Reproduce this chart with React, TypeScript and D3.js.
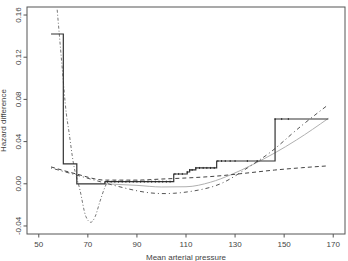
import React, { useEffect, useRef } from 'react';
import * as d3 from 'd3';

// tick labels
const xTicks = [50, 70, 90, 110, 130, 150, 170];
const yTicks = [-0.04, 0, 0.04, 0.08, 0.12, 0.16];
const yTickLabels = ['-0.04', '0.00', '0.04', '0.08', '0.12', '0.16'];

// step estimate (each level holds until the next x)
const stepX = [55, 60, 65.5, 77, 105, 110.5, 111.5, 114, 122.5, 146.3, 168];
const stepY = [0.142, 0.0188, 0.0, 0.002, 0.0093, 0.0112, 0.0131, 0.015, 0.0216, 0.0614, 0.0614];

// observation marks on the step line
const markX = [
  78, 79.5, 81, 82.5, 84, 85.5, 87, 88.5, 90, 91.5, 93, 94.5, 96, 97.5, 99, 100.5, 102, 103.5,
  105.5, 107, 108.5, 110.5, 111.5, 112.5, 114, 115.5, 117, 118.5, 120, 121.5, 123, 124.5, 126,
  128, 130, 135, 139, 146.3, 149, 151.7,
];

// dashed curve
const dashX = [55, 65, 77, 90, 100, 110, 122, 134, 146, 157, 168];
const dashY = [0.016, 0.0095, 0.0035, 0.0035, 0.0045, 0.0055, 0.0072, 0.01, 0.013, 0.0152, 0.017];

// dot-dash curve (wide)
const dotdashX = [55, 65, 75, 85, 95, 105, 115, 125, 135, 145, 155, 168];
const dotdashY = [0.015, 0.0085, 0.002, -0.004, -0.0085, -0.009, -0.006, 0.001, 0.015, 0.031, 0.051, 0.075];

// light grey smooth curve
const smoothX = [77, 90, 100, 110, 120, 128, 137, 146, 155, 168];
const smoothY = [0.0, -0.0015, -0.003, -0.0028, 0.0015, 0.0083, 0.018, 0.029, 0.0415, 0.062];

// flexible curve with the dip
const dipX = [57.5, 58.5, 59.5, 61.2, 62.2, 64.1, 66.8, 69.2, 71.2, 73, 74.9, 77, 78];
const dipY = [0.165, 0.138, 0.111, 0.067, 0.051, 0.0197, -0.006, -0.031, -0.0365, -0.031, -0.017, -0.003, 0.002];

const W = 348;
const H = 261;

const App = () => {
  const svgRef = useRef(null);

  useEffect(() => {
    const svg = d3.select(svgRef.current);
    svg.selectAll('*').remove();

    const left = 27, right = 345, top = 7, bottom = 234;
    const x = d3.scaleLinear().domain([45.2, 174.8]).range([left, right]);
    const y = d3.scaleLinear().domain([-0.0476, 0.1676]).range([bottom, top]);

    svg.append('defs').append('clipPath').attr('id', 'plotclip')
      .append('rect').attr('x', left).attr('y', top)
      .attr('width', right - left).attr('height', bottom - top);

    const g = svg.append('g').attr('clip-path', 'url(#plotclip)');

    const pts = (xs, ys) => xs.map((v, i) => [v, ys[i]]);
    const line = (curve) => d3.line().x((d) => x(d[0])).y((d) => y(d[1])).curve(curve);

    // smooth grey
    g.append('path')
      .attr('d', line(d3.curveMonotoneX)(pts(smoothX, smoothY)))
      .attr('fill', 'none').attr('stroke', '#b0b0b0').attr('stroke-width', 1);

    // dashed
    g.append('path')
      .attr('d', line(d3.curveMonotoneX)(pts(dashX, dashY)))
      .attr('fill', 'none').attr('stroke', '#444').attr('stroke-width', 1)
      .attr('stroke-dasharray', '4,3');

    // dot-dash
    g.append('path')
      .attr('d', line(d3.curveNatural)(pts(dotdashX, dotdashY)))
      .attr('fill', 'none').attr('stroke', '#555').attr('stroke-width', 1)
      .attr('stroke-dasharray', '1,3,4,3');

    // dip curve
    g.append('path')
      .attr('d', line(d3.curveMonotoneX)(pts(dipX, dipY)))
      .attr('fill', 'none').attr('stroke', '#777').attr('stroke-width', 1)
      .attr('stroke-dasharray', '3,2,1,2');

    // step
    g.append('path')
      .attr('d', line(d3.curveStepAfter)(pts(stepX, stepY)))
      .attr('fill', 'none').attr('stroke', '#333').attr('stroke-width', 1.2);

    const levelAt = (v) => {
      let lv = stepY[0];
      stepX.forEach((sx, i) => { if (v >= sx) lv = stepY[i]; });
      return lv;
    };
    g.selectAll('line.mark').data(markX).enter().append('line')
      .attr('class', 'mark')
      .attr('x1', (d) => x(d)).attr('x2', (d) => x(d))
      .attr('y1', (d) => y(levelAt(d)) - 1).attr('y2', (d) => y(levelAt(d)) + 1)
      .attr('stroke', '#222').attr('stroke-width', 0.9);

    // box
    svg.append('rect')
      .attr('x', left).attr('y', top).attr('width', right - left).attr('height', bottom - top)
      .attr('fill', 'none').attr('stroke', '#555').attr('stroke-width', 1);

    const font = 'Liberation Sans, Arial, sans-serif';

    // x axis
    const xa = svg.append('g');
    xa.selectAll('line').data(xTicks).enter().append('line')
      .attr('x1', (d) => x(d)).attr('x2', (d) => x(d))
      .attr('y1', bottom).attr('y2', bottom + 3.5)
      .attr('stroke', '#555');
    xa.selectAll('text').data(xTicks).enter().append('text')
      .attr('x', (d) => x(d)).attr('y', 246.5)
      .attr('text-anchor', 'middle')
      .attr('font-family', font).attr('font-size', 8).attr('fill', '#444')
      .text((d) => d);

    // y axis
    const ya = svg.append('g');
    ya.selectAll('line').data(yTicks).enter().append('line')
      .attr('x1', left).attr('x2', left - 3.5)
      .attr('y1', (d) => y(d)).attr('y2', (d) => y(d))
      .attr('stroke', '#555');
    ya.selectAll('text').data(yTicks).enter().append('text')
      .attr('transform', (d) => `translate(21,${y(d)}) rotate(-90)`)
      .attr('text-anchor', 'middle')
      .attr('font-family', font).attr('font-size', 8).attr('fill', '#444')
      .text((d, i) => yTickLabels[i]);

    // axis titles
    svg.append('text')
      .attr('x', (left + right) / 2).attr('y', 260)
      .attr('text-anchor', 'middle')
      .attr('font-family', font).attr('font-size', 8).attr('fill', '#444')
      .text('Mean arterial pressure');
    svg.append('text')
      .attr('transform', `translate(5.5,${(top + bottom) / 2}) rotate(-90)`)
      .attr('text-anchor', 'middle')
      .attr('font-family', font).attr('font-size', 8).attr('fill', '#444')
      .text('Hazard difference');
  }, []);

  return (
    <svg
      ref={svgRef}
      width={W}
      height={H}
      style={{ position: 'fixed', left: 0, top: 0, background: '#fff' }}
    ></svg>
  );
};

export default App;
